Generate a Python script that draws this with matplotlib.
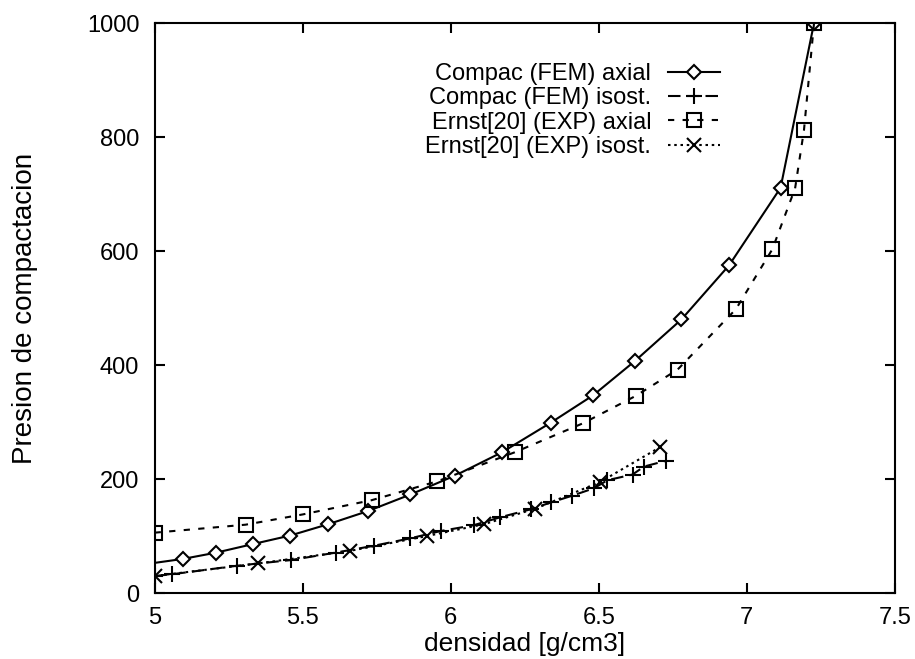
import matplotlib
matplotlib.use("Agg")
import matplotlib.pyplot as plt

# densidad vs presion de compactacion
fem_axial_x = [5.0, 5.096, 5.208, 5.332, 5.458, 5.587, 5.721, 5.864, 6.014, 6.173,
               6.338, 6.481, 6.624, 6.779, 6.940, 7.114, 7.227]
fem_axial_y = [53, 60, 71, 86, 101, 121, 144, 173, 206, 247,
               299, 347, 408, 480, 575, 711, 1000]

fem_isost_x = [5.0, 5.058, 5.278, 5.461, 5.611, 5.740, 5.863, 5.967, 6.077, 6.167,
               6.270, 6.338, 6.411, 6.484, 6.529, 6.614, 6.653, 6.726]
fem_isost_y = [30, 33, 48, 58, 71, 83, 96, 109, 119, 133,
               147, 159, 171, 184, 198, 208, 222, 232]

exp_axial_x = [5.0, 5.307, 5.500, 5.733, 5.954, 6.216, 6.447, 6.625, 6.766, 6.963,
               7.086, 7.163, 7.193, 7.227]
exp_axial_y = [106, 120, 138, 163, 196, 247, 298, 346, 392, 498,
               603, 710, 812, 1000]

exp_isost_x = [5.0, 5.349, 5.659, 5.919, 6.113, 6.285, 6.505, 6.707]
exp_isost_y = [30, 52, 74, 100, 121, 148, 195, 256]

labels = ["Compac (FEM) axial", "Compac (FEM) isost.",
          "Ernst[20] (EXP) axial", "Ernst[20] (EXP) isost."]

plt.rcParams['font.family'] = ['Liberation Sans', 'DejaVu Sans']

fig = plt.figure(figsize=(9.15, 6.59), dpi=100)
ax = fig.add_axes([0.169, 0.100, 0.809, 0.865])

ax.plot(fem_axial_x, fem_axial_y, color="black", lw=1.5, ls="-",
        marker="D", ms=7, mfc="white", mec="black", mew=1.5,
        markevery=slice(1, None), label=labels[0])
ax.plot(fem_isost_x, fem_isost_y, color="black", lw=1.5, ls=(0, (6, 3)),
        marker="+", ms=11, mew=1.5, label=labels[1])
ax.plot(exp_axial_x, exp_axial_y, color="black", lw=1.5, ls=(0, (3, 4)),
        marker="s", ms=10, mfc="none", mec="black", mew=1.5, label=labels[2])
ax.plot(exp_isost_x, exp_isost_y, color="black", lw=1.5, ls=(0, (1.2, 1.8)),
        marker="x", ms=10, mew=1.5, label=labels[3])

ax.set_xlim(5, 7.5)
ax.set_ylim(0, 1000)
ax.set_xticks([5, 5.5, 6, 6.5, 7, 7.5])
ax.set_xticklabels(["5", "5.5", "6", "6.5", "7", "7.5"])
ax.set_yticks([0, 200, 400, 600, 800, 1000])

ax.tick_params(direction="in", top=True, right=True, length=7, width=1.5,
               labelsize=17)
ax.tick_params(axis="x", pad=10)
ax.tick_params(axis="y", pad=11)
for s in ax.spines.values():
    s.set_linewidth(1.5)

ax.set_xlabel("densidad [g/cm3]", fontsize=19)
ax.set_ylabel("Presion de compactacion", fontsize=20)
ax.xaxis.set_label_coords(0.5, -0.068)
ax.yaxis.set_label_coords(-0.158, 0.5)

ax.legend(loc="upper right", bbox_to_anchor=(0.7635, 0.93), frameon=False,
          markerfirst=False, fontsize=17, handlelength=2.2, handletextpad=0.7,
          labelspacing=0.1, borderpad=0, borderaxespad=0, numpoints=1)

fig.savefig("out.png", dpi=100)
